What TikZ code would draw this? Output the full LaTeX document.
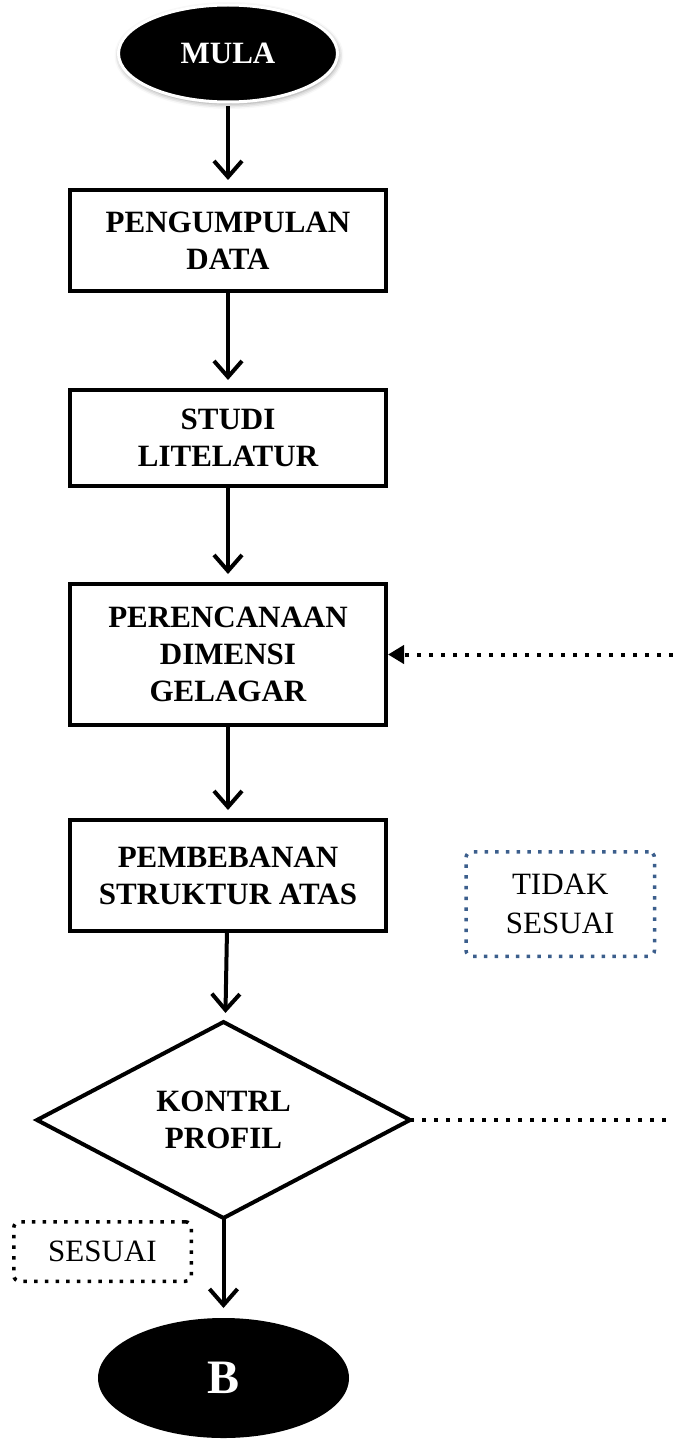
\documentclass[tikz,border=0pt]{standalone}
\usepackage{fontspec}
\setmainfont{Liberation Serif}
\usetikzlibrary{arrows.meta,positioning,shapes.geometric,shadows.blur}
\definecolor{kotakbiru}{HTML}{3B5E8C}

\begin{document}
\begin{tikzpicture}[every node/.style={outer sep=0pt,font=\fontsize{15.5}{18.5}\selectfont\bfseries},
    proses/.style={draw,line width=2pt,minimum width=158pt,align=center},
    terminal/.style={ellipse,fill=black,text=white},
    panah/.style={line width=2pt,-{Straight Barb[length=8pt,width=14pt]},shorten >=5pt},
    titik/.style={line width=2pt,dash pattern=on 2pt off 4pt},
    catatan/.style={line width=1.75pt,dash pattern=on 1.75pt off 3.6pt,rounded corners=3pt,align=center,font=\fontsize{15.5}{19.5}\selectfont\mdseries}]
      \useasboundingbox (0,0) rectangle (336.5pt,-719.5pt);
      \node[terminal,draw=white,line width=1.5pt,minimum width=109.5pt,minimum height=48.5pt,
        blur shadow={shadow xshift=0.5pt,shadow yshift=-1pt,shadow blur radius=2.5pt,shadow opacity=45}] (mula) at (114pt,-26.75pt) {MULA};
      \node[proses,minimum height=50.5pt,below=44pt of mula] (data) {PENGUMPULAN\\DATA};
      \node[proses,minimum height=48pt,below=49.5pt of data] (studi) {STUDI\\LITELATUR};
      \node[proses,minimum height=70.5pt,below=49pt of studi] (rencana) {PERENCANAAN\\DIMENSI\\GELAGAR};
      \node[proses,minimum height=55.5pt,below=47.5pt of rencana] (beban) {PEMBEBANAN\\STRUKTUR ATAS};
      \node[diamond,draw,line width=2pt,aspect=1.9,inner sep=1pt,align=center,minimum width=186.5pt,minimum height=98pt,below=45.5pt of beban,xshift=-2.25pt] (kontrol) {KONTRL\\PROFIL};
      \node[terminal,minimum width=125.5pt,minimum height=60pt,below=50pt of kontrol,font=\fontsize{24}{28}\selectfont\bfseries] (b) {B};
      \node[catatan,draw=kotakbiru,minimum width=94.25pt,minimum height=52.25pt,right=40pt of beban,yshift=-14.25pt] (tidak) {TIDAK\\SESUAI};
      \node[catatan,draw=black,minimum width=88.75pt,minimum height=29.75pt] (sesuai) at (51.25pt,-625.75pt) {SESUAI};
      \coordinate (ujung1) at (336.5pt,-327.25pt);
      \coordinate (ujung2) at (336.5pt,-560pt);
      % alur utama
      \draw[panah,shorten <=2pt] (mula) -- (data);
      \draw[panah] (data) -- (studi);
      \draw[panah] (studi) -- (rencana);
      \draw[panah] (rencana) -- (beban);
      \draw[panah] (beban) -- (kontrol);
      \draw[panah] (kontrol) -- (b);
      % kembali jika tidak sesuai
      \draw[titik,-{Triangle[length=8pt,width=9pt]},shorten >=1pt] (ujung1) -- (rencana.east);
      \draw[titik] (kontrol.east) -- (ujung2);
    \end{tikzpicture}
\end{document}
